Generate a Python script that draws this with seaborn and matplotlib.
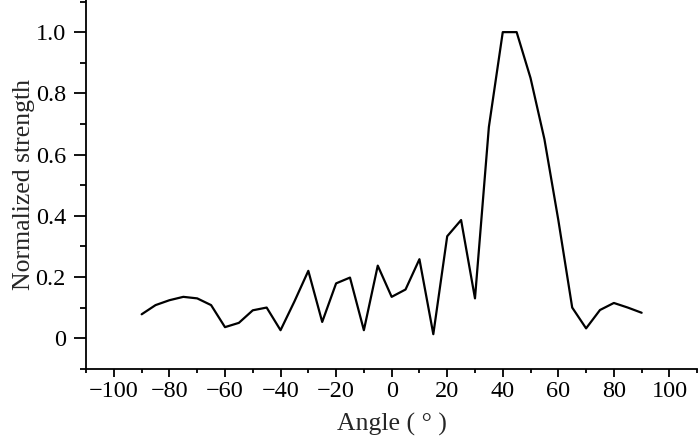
import matplotlib
matplotlib.use("Agg")
import matplotlib.pyplot as plt
from matplotlib.ticker import MultipleLocator
import pandas as pd
import seaborn as sns

# Data
angles = [-90, -85, -80, -75, -70, -65, -60, -55, -50, -45, -40, -35, -30,
          -25, -20, -15, -10, -5, 0, 5, 10, 15, 20, 25, 30, 35, 40, 45,
          50, 55, 60, 65, 70, 75, 80, 85, 90]
strength = [0.078, 0.108, 0.124, 0.135, 0.130, 0.108, 0.036, 0.050, 0.091,
            0.100, 0.026, 0.120, 0.220, 0.053, 0.179, 0.198, 0.026, 0.237,
            0.135, 0.159, 0.258, 0.013, 0.333, 0.386, 0.130, 0.690, 1.000,
            1.000, 0.850, 0.650, 0.386, 0.100, 0.032, 0.092, 0.115, 0.100,
            0.083]
x_ticks = [-100, -80, -60, -40, -20, 0, 20, 40, 60, 80, 100]
y_ticks = [0, 0.2, 0.4, 0.6, 0.8, 1.0]
y_tick_labels = ["0", "0.2", "0.4", "0.6", "0.8", "1.0"]

df = pd.DataFrame({"angle": angles, "strength": strength})

sns.set_style("ticks")
plt.rcParams["font.family"] = ["Liberation Serif", "DejaVu Serif"]
plt.rcParams["axes.unicode_minus"] = True

fig = plt.figure(figsize=(7, 4.42), dpi=100)
ax = fig.add_axes([0.123, 0.165, 0.873, 0.835])

sns.lineplot(data=df, x="angle", y="strength", ax=ax, color="black",
             linewidth=1.6, estimator=None, sort=False)

ax.set_xlim(-110, 110)
ax.set_ylim(-0.101, 1.105)
ax.set_xticks(x_ticks)
ax.set_yticks(y_ticks)
ax.set_yticklabels(y_tick_labels)
ax.xaxis.set_minor_locator(MultipleLocator(10))
ax.yaxis.set_minor_locator(MultipleLocator(0.1))

ax.tick_params(which="both", direction="out", width=1.3, colors="black",
               labelsize=17.5)
ax.tick_params(axis="x", which="major", length=5.8, pad=3)
ax.tick_params(axis="x", which="minor", length=2.9)
ax.tick_params(axis="y", which="major", length=9, pad=5.5)
ax.tick_params(axis="y", which="minor", length=4.3)

for side in ["top", "right"]:
    ax.spines[side].set_visible(False)
for side in ["left", "bottom"]:
    ax.spines[side].set_linewidth(1.3)
    ax.spines[side].set_color("black")

ax.set_xlabel("Angle ( ° )", fontsize=18.5, labelpad=8)
ax.set_ylabel("Normalized strength", fontsize=18.5, labelpad=0.5)

fig.savefig("out.png", dpi=100)
